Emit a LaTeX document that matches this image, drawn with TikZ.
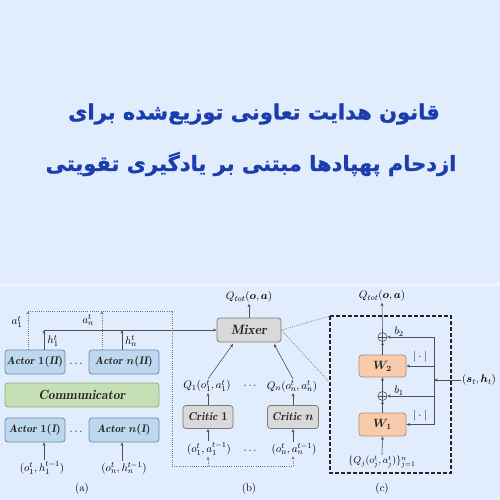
\documentclass[tikz,border=0pt]{standalone}
\usepackage{amsmath,amssymb,bm}
\usepackage{fontspec}
\usetikzlibrary{arrows.meta,calc}
\newfontfamily\titlefont[Script=Arabic, FakeBold=1.2]{DejaVu Sans Bold}
\TeXXeTstate=1
\definecolor{bg}{HTML}{E1EDFD}
\definecolor{titleblue}{HTML}{1B3DAE}
\definecolor{actorfill}{HTML}{BDD7EE}
\definecolor{actordraw}{HTML}{6A8BB0}
\definecolor{commfill}{HTML}{C5E0B4}
\definecolor{commdraw}{HTML}{8CAA7C}
\definecolor{mixfill}{HTML}{D9D9D9}
\definecolor{mixdraw}{HTML}{7A7A7A}
\definecolor{wfill}{HTML}{F8CBAD}
\definecolor{wdraw}{HTML}{B98A6A}
\definecolor{ln}{HTML}{505050}
\tikzset{
  box/.style={draw, rounded corners=3pt, line width=0.8pt, inner sep=1pt, text=black!85},
  actor/.style={box, fill=actorfill, draw=actordraw, minimum height=24pt, font=\fontsize{11}{13}\selectfont\boldmath},
  comm/.style={box, fill=commfill, draw=commdraw, minimum height=24pt, minimum width=154pt, font=\fontsize{13.3}{15}\selectfont\boldmath},
  gbox/.style={box, fill=mixfill, draw=mixdraw, minimum height=23pt, font=\fontsize{11.5}{13}\selectfont\boldmath},
  wbox/.style={box, fill=wfill, draw=wdraw, minimum height=22pt, minimum width=47pt, font=\fontsize{11.5}{13}\selectfont\boldmath},
  lab/.style={inner sep=1pt, font=\fontsize{11}{13}\selectfont},
  arr/.style={draw=ln, line width=0.6pt, -{Stealth[length=3.5pt,width=3pt]}},
  plain/.style={draw=ln, line width=0.6pt},
  dotl/.style={draw=ln!80, line width=0.6pt, dash pattern=on 1pt off 1.2pt},
  dotarr/.style={dotl, -{Stealth[length=3.5pt,width=3pt]}},
  dashbox/.style={draw=black!85, line width=1.1pt, dash pattern=on 4pt off 2pt},
  title/.style={text=titleblue, font=\titlefont\fontsize{21}{24}\selectfont, inner sep=0pt}
}
\begin{document}
\begin{tikzpicture}[x=1pt, y=-1pt]
\fill[bg] (0,0) rectangle (500,500);
\useasboundingbox (0,0) rectangle (500,500);
\fill[white!30!bg] (0,283) rectangle (500,287);

% title
\node[title] (t1) at (254,114) {\beginR قانون هدایت تعاونی توزیع‌شده برای\endR};
\node[title] (t2) at (251,164) {\beginR ازدحام پهپادها مبتنی بر یادگیری تقویتی\endR};

% ---------- panel (a)
\node[actor, minimum width=60pt] (a1II) at (35,362) {$\mathit{Actor}\ 1(\mathit{II})$};
\node[actor, minimum width=70pt] (anII) at (124,362) {$\mathit{Actor}\ n(\mathit{II})$};
\node[lab] (dA) at (77,364) {$\cdots$};
\node[comm] (comm) at (82,395) {$\mathit{Communicator}$};
\node[actor, minimum width=60pt] (a1I) at (35,430) {$\mathit{Actor}\ 1(\mathit{I})$};
\node[actor, minimum width=70pt] (anI) at (124,430) {$\mathit{Actor}\ n(\mathit{I})$};
\node[lab] (dB) at (77,432) {$\cdots$};
\node[lab] (i1) at (42,468) {$(o_1^t,h_1^{t-1})$};
\node[lab] (in) at (124,468) {$(o_n^t,h_n^{t-1})$};
\draw[arr] (i1.north -| 44,0) -- (a1I.south -| 44,0);
\draw[arr] (in.north -| 122,0) -- (anI.south -| 122,0);
\node[lab] (la) at (82,489) {(a)};

\coordinate (ta1) at (28,311);
\coordinate (tan) at (102,311);
\coordinate (tc) at (172,311);
\coordinate (bc) at (172,466);
\coordinate (h1) at (44,330);
\coordinate (hn) at (122,330);
\node[lab] (la1) at (17,322) {$a_1^t$};
\node[lab] (lan) at (88,320) {$a_n^t$};
\node[lab] (lh1) at (53,341) {$h_1^t$};
\node[lab] (lhn) at (131,341) {$h_n^t$};
\draw[dotarr] (a1II.north -| ta1) -- (ta1);
\draw[dotarr] (anII.north -| tan) -- (tan);
\draw[arr] (a1II.north -| h1) -- (h1);
\draw[arr] (anII.north -| hn) -- (hn);

% ---------- panel (b)
\node[gbox, minimum width=64pt, minimum height=24pt, font=\fontsize{13.5}{15}\selectfont\boldmath] (mixer) at (249,330) {$\mathit{Mixer}$};
\node[lab] (qt) at (249,297) {$Q_{tot}(\bm{o},\bm{a})$};
\draw[arr] (mixer.north) -- (qt.south);
\draw[arr] (h1) -- (mixer.west);
\draw[dotl] (ta1) -- (tc) -- (bc);

\node[gbox, minimum width=50pt] (cr1) at (208,417) {$\mathit{Critic}\ 1$};
\node[gbox, minimum width=51pt] (crn) at (293,417) {$\mathit{Critic}\ n$};
\node[lab] (q1) at (207,386) {$Q_1(o_1^t,a_1^t)$};
\node[lab] (qn) at (292,386) {$Q_n(o_n^t,a_n^t)$};
\node[lab] (dC) at (251,386) {$\cdots$};
\node[lab] (c1in) at (209,449) {$(o_1^t,a_1^{t-1})$};
\node[lab] (cnin) at (294,449) {$(o_n^t,a_n^{t-1})$};
\node[lab] (dD) at (251,451) {$\cdots$};
\coordinate (bn) at (293,466);
\coordinate (m1) at (233,344);
\coordinate (mn) at (274,344);
\draw[dotl] (bc) -- (bn);
\draw[dotarr] (bc -| cr1) -- (c1in.south -| cr1);
\draw[dotarr] (bn) -- (cnin.south -| crn);
\draw[arr] (c1in.north -| cr1) -- (cr1.south);
\draw[arr] (cnin.north -| crn) -- (crn.south);
\draw[arr] (cr1.north) -- (q1.south -| cr1);
\draw[arr] (crn.north) -- (qn.south -| crn);
\draw[arr] (q1.north -| cr1) -- (m1);
\draw[arr] (qn.north -| crn) -- (mn);
\node[lab] (lb) at (249,489) {(b)};

% ---------- panel (c)
\coordinate (c1) at (330,316);
\coordinate (c2) at (451,473);
\coordinate (cl) at (330,383);
\draw[dashbox] (c1) rectangle (c2);
\draw[dotl] (mixer.east) -- (c1);
\draw[dotl] (mixer.east) -- (cl);

\node[wbox] (W2) at (382.5,366) {$W_2$};
\node[wbox, minimum height=23pt] (W1) at (382.5,424.5) {$W_1$};
\node[draw=ln, line width=0.6pt, circle, minimum size=9pt, inner sep=0pt] (b2c) at (382.5,337) {};
\node[draw=ln, line width=0.6pt, circle, minimum size=9pt, inner sep=0pt] (b1c) at (382.5,396) {};
\draw[plain] (b2c.north) -- (b2c.south) (b2c.west) -- (b2c.east);
\draw[plain] (b1c.north) -- (b1c.south) (b1c.west) -- (b1c.east);
\node[lab] (qtc) at (382,296) {$Q_{tot}(\bm{o},\bm{a})$};
\node[lab, font=\fontsize{10}{12}\selectfont] (inc) at (382,462) {$\{Q_j(o_j^t,a_j^t)\}_{j=1}^n$};
\draw[arr] (inc.north) -- (W1.south);
\draw[arr] (W1.north) -- (b1c.south);
\draw[arr] (b1c.north) -- (W2.south);
\draw[arr] (W2.north) -- (b2c.south);
\draw[arr] (b2c.north) -- (qtc.south);

\coordinate (rt) at (434,337);
\coordinate (rb) at (434,424.5);
\draw[plain] (rt) -- (rb);
\draw[arr] (rt) -- (b2c.east);
\draw[arr] (W2.east -| rt) -- (W2.east);
\draw[arr] (b1c.east -| rt) -- (b1c.east);
\draw[arr] (rb) -- (W1.east);
\node[lab] (sh) at (479,380) {$(\bm{s}_t,\bm{h}_t)$};
\draw[arr] (sh.west) -- (sh.west -| rt);
\node[lab] (lb2) at (399,332) {$b_2$};
\node[lab] (lb1) at (399,391) {$b_1$};
\node[lab] (ab2) at (420,357) {$|\cdot|$};
\node[lab] (ab1) at (420,416) {$|\cdot|$};
\node[lab] (lc) at (382,489) {$(c)$};
\end{tikzpicture}
\end{document}
